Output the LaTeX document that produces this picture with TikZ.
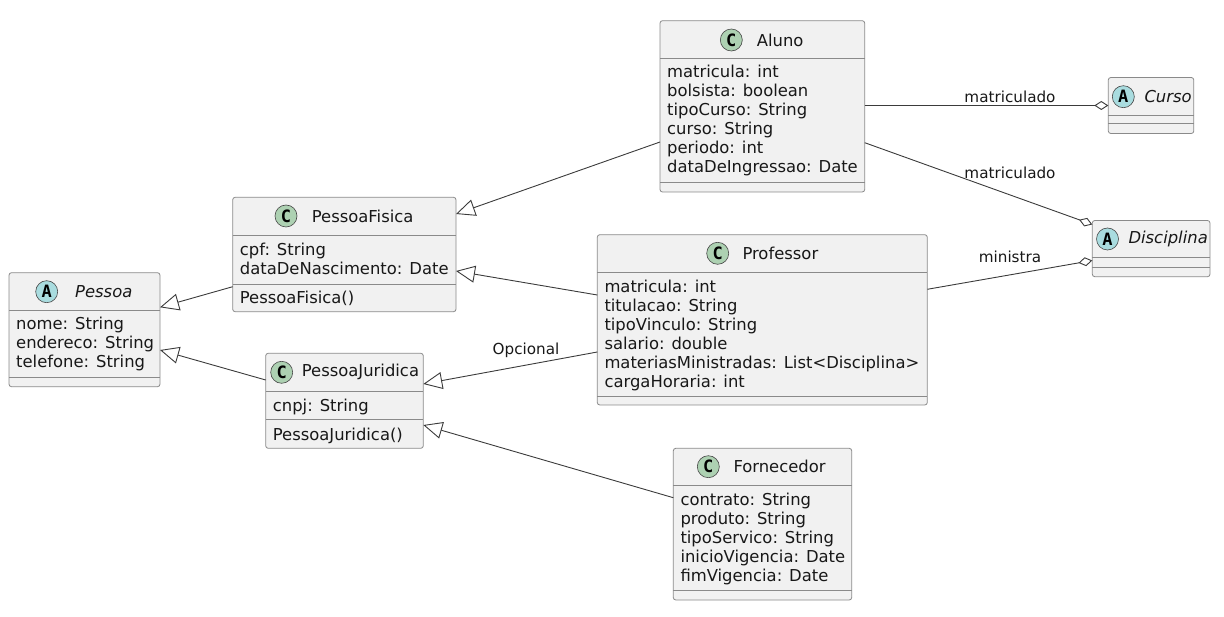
\documentclass[tikz,border=0pt]{standalone}
\usepackage{fontspec}
\setmainfont{DejaVu Sans}
\newfontfamily\spotfont{DejaVu Sans Mono}
\usetikzlibrary{arrows.meta}
\definecolor{boxfill}{HTML}{F1F1F1}
\definecolor{edgecol}{HTML}{181818}
\definecolor{bordercol}{HTML}{8A8A8A}
\definecolor{cgreen}{HTML}{ADD1B2}
\definecolor{acyan}{HTML}{A9DCDF}

\newcommand\umlbox[7]{% name, x, y, w, h, sep1, sep2
  \node[classbox, minimum width=#4pt, minimum height=#5pt] (#1) at (#2,#3) {};
  \draw[sepline] ([yshift=-#6pt]#1.north west) -- ([yshift=-#6pt]#1.north east);
  \draw[sepline] ([yshift=-#7pt]#1.north west) -- ([yshift=-#7pt]#1.north east);
}
\newcommand\umlhead[7]{% name, spot dx, spot dy, letter, colour, name dx, title
  \node[spot, fill=#5] (#1-spot) at ([xshift=#2pt, yshift=-#3pt]#1.north west) {#4};
  \node[cname] (#1-title) at ([xshift=#6pt, yshift=-#3pt]#1.north west) {#7};
}
\newcommand\umlmembers[3]{% name, first baseline offset, list
  \foreach \umlt [count=\umli from 0] in {#3} {
    \pgfmathsetmacro\umlyy{#2+19*\umli}
    \node[member] (#1-m#2-\umli) at ([xshift=7pt, yshift=-\umlyy pt]#1.north west) {\umlt};
  }
}

\begin{document}
\begin{tikzpicture}[x=1pt, y=-1pt,
  classbox/.style={draw=bordercol, line width=0.8pt, fill=boxfill, rounded corners=2.5pt,
    anchor=north west, inner sep=0pt, outer sep=0pt, rectangle},
  sepline/.style={draw=bordercol, line width=0.8pt},
  spot/.style={circle, draw=edgecol!80, line width=0.6pt, minimum size=22pt, inner sep=0pt,
    font=\spotfont\bfseries\fontsize{17}{17}\selectfont},
  cname/.style={anchor=west, inner sep=0pt, font=\fontsize{16.4}{19}\selectfont, text=edgecol},
  member/.style={anchor=base west, inner sep=0pt, font=\fontsize{16.4}{19}\selectfont, text=edgecol},
  lbl/.style={inner sep=0pt, font=\fontsize{15.2}{18}\selectfont, text=edgecol},
  inh/.style={draw=edgecol!85, line width=0.9pt, -{Triangle[open, length=19pt, width=17pt]}},
  agg/.style={draw=edgecol!85, line width=0.9pt, -{Diamond[open, length=14pt, width=9pt]}}
]
\useasboundingbox (0,0) rectangle (1224,617);

% Pessoa
\umlbox{pessoa}{9}{272.7}{151}{114}{37.3}{105}
\umlhead{pessoa}{37.7}{19}{A}{acyan}{66}{\itshape Pessoa}
\umlmembers{pessoa}{57.3}{nome: String, endereco: String, telefone: String}

% PessoaFisica
\umlbox{pf}{232.7}{197.3}{223.3}{114.4}{38}{86.7}
\umlhead{pf}{53.3}{18.7}{C}{cgreen}{79}{PessoaFisica}
\umlmembers{pf}{58}{cpf: String, dataDeNascimento: Date}
\umlmembers{pf}{106.7}{PessoaFisica()}

% PessoaJuridica
\umlbox{pj}{265.7}{353.3}{157.6}{95}{37.7}{66}
\umlhead{pj}{16}{19}{C}{cgreen}{36}{PessoaJuridica}
\umlmembers{pj}{58.2}{cnpj: String}
\umlmembers{pj}{87}{PessoaJuridica()}

% Aluno
\umlbox{aluno}{660}{20.7}{204.7}{171.3}{38}{162}
\umlhead{aluno}{71.3}{19.3}{C}{cgreen}{96.7}{Aluno}
\umlmembers{aluno}{57}{matricula: int, bolsista: boolean, tipoCurso: String, curso: String, periodo: int, dataDeIngressao: Date}

% Professor
\umlbox{prof}{597.3}{234.7}{330}{170.3}{37.6}{161.3}
\umlhead{prof}{120.4}{18.6}{C}{cgreen}{145}{Professor}
\umlmembers{prof}{57.6}{matricula: int, titulacao: String, tipoVinculo: String, salario: double, materiasMinistradas: List<Disciplina>, cargaHoraria: int}

% Fornecedor
\umlbox{forn}{673.3}{448.3}{178.4}{151.7}{37.4}{142.4}
\umlhead{forn}{35}{18.4}{C}{cgreen}{60}{Fornecedor}
\umlmembers{forn}{57.4}{contrato: String, produto: String, tipoServico: String, inicioVigencia: Date, fimVigencia: Date}

% Curso
\umlbox{curso}{1108.3}{77.5}{85.5}{56}{37.5}{46.3}
\umlhead{curso}{15}{19.2}{A}{acyan}{36}{\itshape Curso}

% Disciplina
\umlbox{disc}{1092.3}{220.5}{117.7}{56.2}{37.4}{46.5}
\umlhead{disc}{15.2}{18.5}{A}{acyan}{36}{\itshape Disciplina}

% generalisations
\draw[inh] ([yshift=-89.4pt]pf.north west) -- ([yshift=-34.6pt]pessoa.north east);
\draw[inh] ([yshift=-26.7pt]pj.north west) -- ([yshift=-77.3pt]pessoa.north east);
\draw[inh] ([yshift=-121.3pt]aluno.north west) -- ([yshift=-16.7pt]pf.north east);
\draw[inh] ([yshift=-60.3pt]prof.north west) -- ([yshift=-73.7pt]pf.north east);
\draw[inh] ([yshift=-117.3pt]prof.north west) -- ([yshift=-30.7pt]pj.north east);
\draw[inh] ([yshift=-49.4pt]forn.north west) -- ([yshift=-71.7pt]pj.north east);

% aggregations
\draw[agg] ([yshift=-84.8pt]aluno.north east) -- (curso.west);
\draw[agg] ([yshift=-122pt]aluno.north east) -- ([yshift=-4pt]disc.north west);
\draw[agg] ([yshift=-54.6pt]prof.north east) -- ([yshift=-40pt]disc.north west);

% labels
\node[lbl] (l-opc) at (526,350) {Opcional};
\node[lbl] (l-mat1) at (1010,96.7) {matriculado};
\node[lbl] (l-mat2) at (1010,173.3) {matriculado};
\node[lbl] (l-min) at (1010,256.7) {ministra};
\end{tikzpicture}
\end{document}
